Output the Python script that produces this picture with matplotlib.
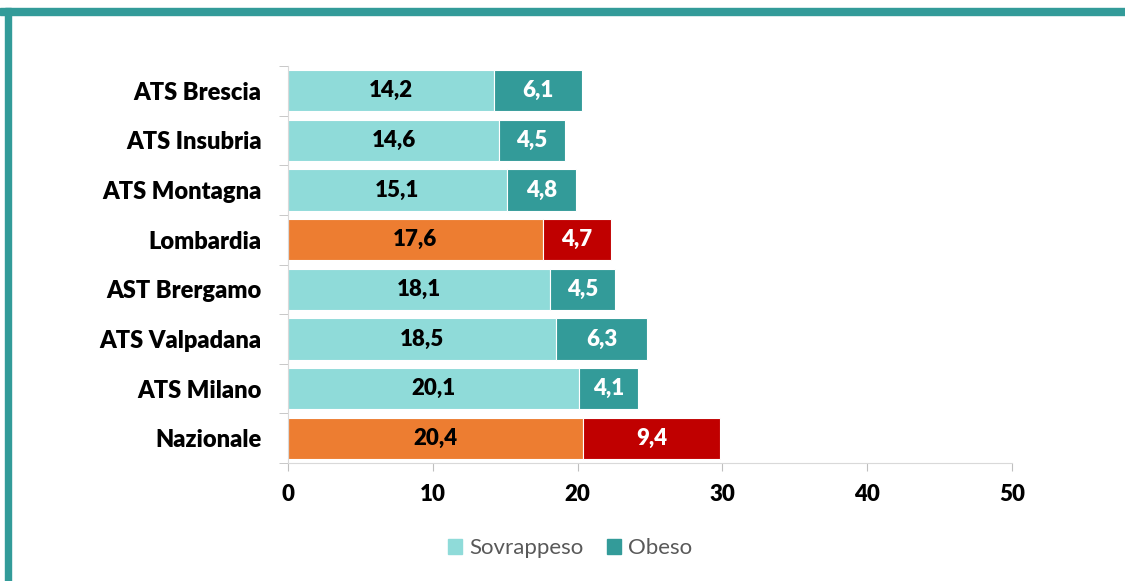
import matplotlib
matplotlib.use("Agg")
import matplotlib.pyplot as plt
from matplotlib.patches import Rectangle, Patch

plt.rcParams['font.family'] = ['Lato', 'DejaVu Sans']

# dati
aree = ['ATS Brescia', 'ATS Insubria', 'ATS Montagna', 'Lombardia',
        'AST Brergamo', 'ATS Valpadana', 'ATS Milano', 'Nazionale']
sovrappeso = [14.2, 14.6, 15.1, 17.6, 18.1, 18.5, 20.1, 20.4]
obeso = [6.1, 4.5, 4.8, 4.7, 4.5, 6.3, 4.1, 9.4]
xticks = [0, 10, 20, 30, 40, 50]

CHIARO = '#8FDBD9'
SCURO = '#339B99'
ARANCIO = '#ED7D31'
ROSSO = '#C00000'
PESO = 'heavy'

fig = plt.figure(figsize=(11.25, 5.81), dpi=100)
ax = fig.add_axes([0.256, 0.2031, 0.6436, 0.6833])

# cornice verde acqua (in alto e a sinistra)
fig.patches.append(Rectangle((0, 1 - 15 / 581), 1, 7 / 581, transform=fig.transFigure,
                             color=SCURO, zorder=0))
fig.patches.append(Rectangle((5 / 1125, 0), 6 / 1125, 1 - 8 / 581, transform=fig.transFigure,
                             color=SCURO, zorder=0))

y = list(range(len(aree)))[::-1]
col1 = [ARANCIO if a in ('Lombardia', 'Nazionale') else CHIARO for a in aree]
col2 = [ROSSO if a in ('Lombardia', 'Nazionale') else SCURO for a in aree]

ax.barh(y, sovrappeso, height=0.83, color=col1, edgecolor='white', linewidth=0.8)
ax.barh(y, obeso, left=sovrappeso, height=0.83, color=col2, edgecolor='white', linewidth=0.8)

for yi, s, o in zip(y, sovrappeso, obeso):
    ax.text(s / 2, yi, f"{s:.1f}".replace('.', ','), ha='center', va='center',
            fontsize=16, fontweight=PESO, color='black')
    ax.text(s + o / 2, yi, f"{o:.1f}".replace('.', ','), ha='center', va='center',
            fontsize=16, fontweight=PESO, color='white')

ax.set_xlim(0, 50)
ax.set_ylim(-0.5, len(aree) - 0.5)
ax.set_xticks(xticks)
ax.set_xticklabels([str(t) for t in xticks], fontsize=16, fontweight=PESO)
ax.set_yticks(y)
ax.set_yticklabels(aree, fontsize=17, fontweight=PESO)
ax.set_yticks([i - 0.5 for i in range(len(aree) + 1)], minor=True)
ax.tick_params(axis='y', which='major', length=0, pad=19)
ax.tick_params(axis='y', which='minor', length=6.5, color='#BFBFBF', direction='out')
ax.tick_params(axis='x', length=6, color='#BFBFBF', pad=9)

for side in ('top', 'right'):
    ax.spines[side].set_visible(False)
ax.spines['left'].set_color('#D9D9D9')
ax.spines['bottom'].set_color('#D9D9D9')

handles = [Patch(color=CHIARO, label='Sovrappeso'), Patch(color=SCURO, label='Obeso')]
fig.legend(handles=handles, loc='center', bbox_to_anchor=(570 / 1125, 1 - 548 / 581),
           ncol=2, frameon=False, fontsize=16, labelcolor='#595959',
           handlelength=0.64, handleheight=0.64, handletextpad=0.3, columnspacing=1.05,
           borderpad=0)

fig.savefig('out.png', dpi=100)
